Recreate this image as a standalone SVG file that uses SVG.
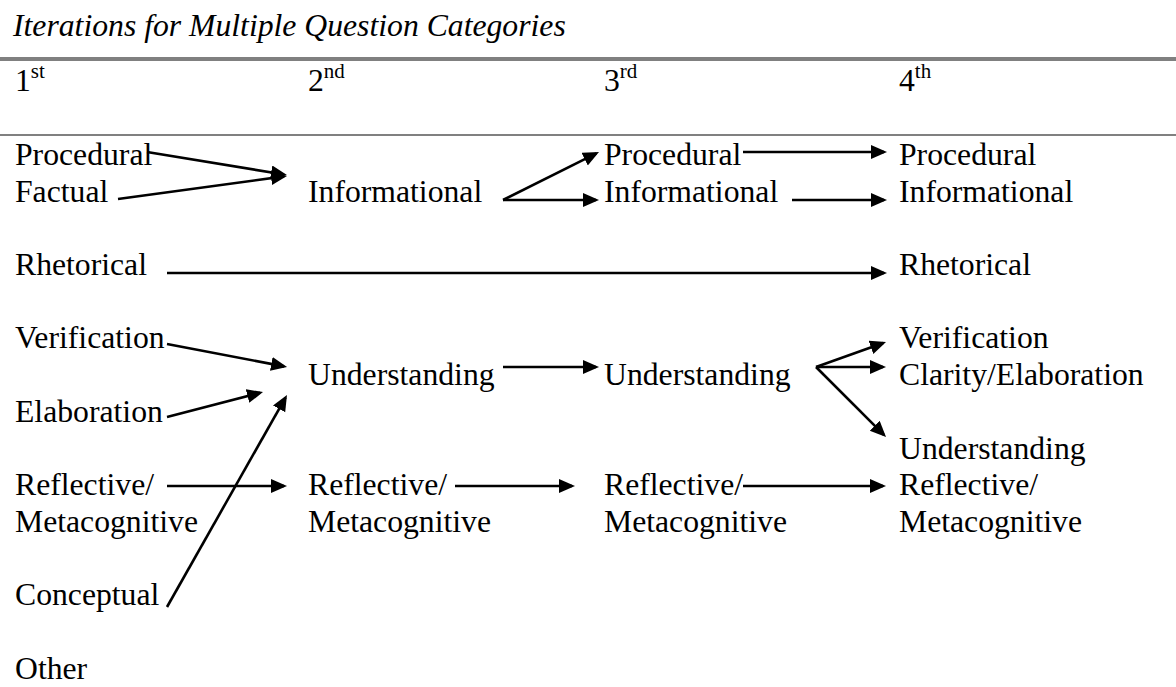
<svg xmlns="http://www.w3.org/2000/svg" width="1176" height="687" viewBox="0 0 1176 687">
<style>
text{font-family:"Liberation Serif","Times New Roman",serif;font-size:31.7px;fill:#000}
.title{font-style:italic}
.sup{font-size:21px}
.rule{stroke:#808080}
.conn path{fill:none;stroke:#000;stroke-width:2.6}
</style>
<defs>
<marker id="ah" markerUnits="userSpaceOnUse" markerWidth="17" markerHeight="15" refX="13" refY="7" orient="auto" viewBox="0 0 17 15">
<path d="M0,0 L16,7 L0,14 z" fill="#000"/>
</marker>
</defs>
<rect width="1176" height="687" fill="#fff"/>
<text class="title" x="13" y="36">Iterations for Multiple Question Categories</text>
<line class="rule" x1="0" y1="59" x2="1176" y2="59" stroke-width="4"/>
<line class="rule" x1="0" y1="135" x2="1176" y2="135" stroke-width="2"/>
<g id="headers">
<text x="15" y="91">1<tspan class="sup" dy="-13">st</tspan></text>
<text x="308" y="91">2<tspan class="sup" dy="-13">nd</tspan></text>
<text x="604" y="91">3<tspan class="sup" dy="-13">rd</tspan></text>
<text x="899" y="91">4<tspan class="sup" dy="-13">th</tspan></text>
</g>
<g id="c1-procedural"><text x="15" y="165">Procedural</text></g>
<g id="c1-factual"><text x="15" y="202">Factual</text></g>
<g id="c1-rhetorical"><text x="15" y="275">Rhetorical</text></g>
<g id="c1-verification"><text x="15" y="348">Verification</text></g>
<g id="c1-elaboration"><text x="15" y="422">Elaboration</text></g>
<g id="c1-reflective"><text x="15" y="495">Reflective/</text><text x="15" y="532">Metacognitive</text></g>
<g id="c1-conceptual"><text x="15" y="605">Conceptual</text></g>
<g id="c1-other"><text x="15" y="679">Other</text></g>
<g id="c2-informational"><text x="308" y="202">Informational</text></g>
<g id="c2-understanding"><text x="308" y="385">Understanding</text></g>
<g id="c2-reflective"><text x="308" y="495">Reflective/</text><text x="308" y="532">Metacognitive</text></g>
<g id="c3-procedural"><text x="604" y="165">Procedural</text></g>
<g id="c3-informational"><text x="604" y="202">Informational</text></g>
<g id="c3-understanding"><text x="604" y="385">Understanding</text></g>
<g id="c3-reflective"><text x="604" y="495">Reflective/</text><text x="604" y="532">Metacognitive</text></g>
<g id="c4-procedural"><text x="899" y="165">Procedural</text></g>
<g id="c4-informational"><text x="899" y="202">Informational</text></g>
<g id="c4-rhetorical"><text x="899" y="275">Rhetorical</text></g>
<g id="c4-verification"><text x="899" y="348">Verification</text></g>
<g id="c4-clarity"><text x="899" y="385">Clarity/Elaboration</text></g>
<g id="c4-understanding"><text x="899" y="459">Understanding</text></g>
<g id="c4-reflective"><text x="899" y="495">Reflective/</text><text x="899" y="532">Metacognitive</text></g>
<g id="connectors" class="conn">
<path d="M147,152 L284,174.5" marker-end="url(#ah)"/>
<path d="M118,199 L284,176.4" marker-end="url(#ah)"/>
<path d="M503,200 L596.3,153.3" marker-end="url(#ah)"/>
<path d="M503,200 L596,200" marker-end="url(#ah)"/>
<path d="M743,152 L884,152" marker-end="url(#ah)"/>
<path d="M792,200 L884,200" marker-end="url(#ah)"/>
<path d="M167,273 L884,273" marker-end="url(#ah)"/>
<path d="M167,344 L284.1,366.4" marker-end="url(#ah)"/>
<path d="M167,417 L260.1,392.8" marker-end="url(#ah)"/>
<path d="M167,607 L285.5,397.6" marker-end="url(#ah)"/>
<path d="M503,367 L596,367" marker-end="url(#ah)"/>
<path d="M816,367 L883.2,343" marker-end="url(#ah)"/>
<path d="M816,367 L883,367" marker-end="url(#ah)"/>
<path d="M816,367 L883.9,434.9" marker-end="url(#ah)"/>
<path d="M167,486 L284,486" marker-end="url(#ah)"/>
<path d="M455,486 L572,486" marker-end="url(#ah)"/>
<path d="M743,486 L883,486" marker-end="url(#ah)"/>
</g>
</svg>
